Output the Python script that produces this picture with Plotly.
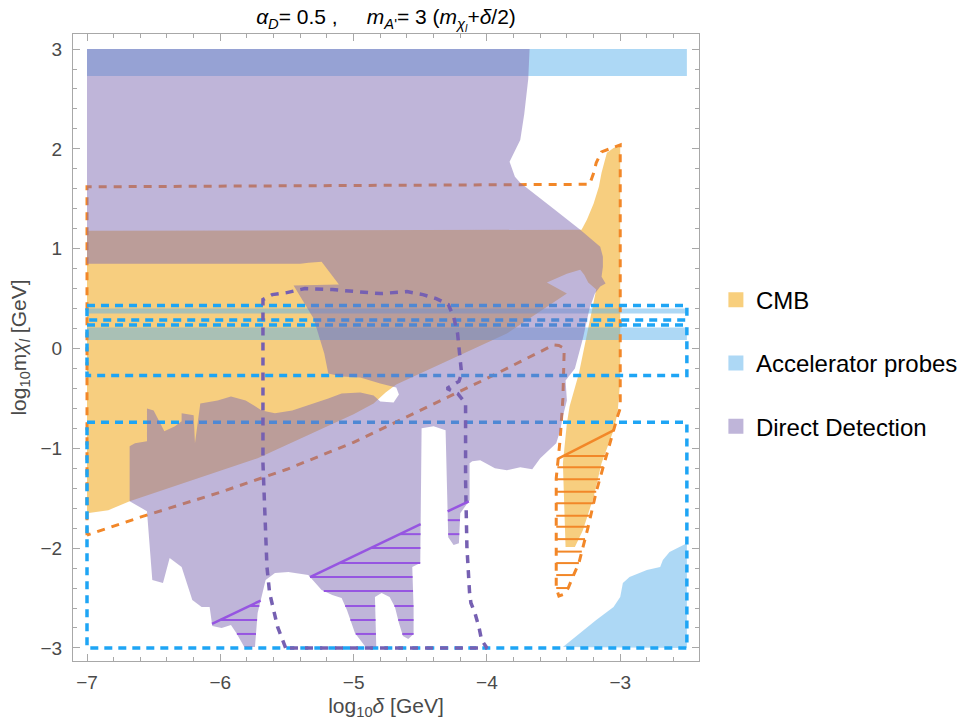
import plotly.graph_objects as go

# ---------------- data (log10 delta [GeV], log10 m_chi [GeV]) ----------------
# CMB excluded region
CMB_X = [-7.00, -3.29, -3.25, -3.20, -3.16, -3.14, -3.10, -3.05, -3.00, -3.00, -3.02, -3.05,
         -3.14, -3.20, -3.28, -3.34, -3.41, -3.42, -3.43, -3.40, -3.38, -3.31, -3.26, -3.21,
         -3.18, -3.24, -3.27, -3.30, -3.40, -3.55, -3.47, -3.40, -3.85, -4.68, -4.76, -4.85,
         -5.00, -5.72, -6.68, -6.84, -7.00]
CMB_Y = [1.18, 1.19, 1.29, 1.45, 1.62, 1.76, 1.96, 2.01, 2.04, -0.32, -0.65, -0.82,
         -1.15, -1.49, -1.82, -1.99, -1.99, -1.65, -1.15, -0.75, -0.58, -0.25, 0.085, 0.42,
         0.59, 0.66, 0.74, 0.79, 0.75, 0.66, 0.60, 0.55, 0.15, -0.36, -0.44, -0.55,
         -0.66, -1.10, -1.53, -1.62, -1.65]

# Direct detection excluded region
DD_X = [-7.00, -3.68, -3.69, -3.72, -3.75, -3.83, -3.79, -3.75, -3.50, -3.30, -3.15, -3.13,
        -3.13, -3.14, -3.11, -3.15, -3.19, -3.23, -3.28, -3.34, -3.41, -3.40, -3.43, -3.45,
        -3.48, -3.54, -3.60, -3.66, -3.75, -3.85, -3.94, -4.05, -4.11, -4.13, -4.13, -4.20,
        -4.21, -4.25, -4.29, -4.31, -4.40, -4.49, -4.50, -4.56, -4.55, -4.55, -4.59, -4.63,
        -4.66, -4.69, -4.73, -4.79, -4.84, -4.83, -4.91, -4.99, -5.05, -5.09, -5.16, -5.24,
        -5.34, -5.49, -5.59, -5.66, -5.72, -5.74, -5.82, -5.88, -5.92, -5.99, -6.06, -6.08,
        -6.14, -6.21, -6.29, -6.38, -6.43, -6.51, -6.53, -6.54, -6.55, -6.68, -6.68, -6.64,
        -6.55, -6.55, -6.50, -6.42, -6.34, -6.29, -6.29, -6.20, -6.19, -6.15, -6.02, -5.92,
        -5.81, -5.69, -5.59, -5.46, -5.34, -5.19, -5.09, -4.95, -4.85, -4.80, -4.70, -4.66,
        -4.68, -4.80, -4.95, -5.09, -5.19, -5.22, -5.30, -5.45, -5.11, -5.20, -5.24, -5.34,
        -5.40, -7.00]
DD_Y = [3.00, 3.00, 2.70, 2.35, 2.09, 1.87, 1.72, 1.66, 1.40, 1.19, 1.02, 0.92,
        0.82, 0.72, 0.65, 0.62, 0.55, 0.40, 0.10, -0.20, -0.32, -0.52, -0.68, -0.82,
        -0.95, -1.03, -1.10, -1.21, -1.19, -1.22, -1.20, -1.12, -1.13, -1.15, -1.52, -1.65,
        -1.95, -1.97, -1.89, -0.82, -0.78, -0.80, -2.15, -2.19, -2.60, -2.86, -2.91, -2.88,
        -2.75, -2.59, -2.49, -2.45, -2.49, -2.99, -2.99, -2.85, -2.62, -2.50, -2.47, -2.42,
        -2.27, -2.24, -2.25, -2.32, -2.65, -2.99, -2.99, -2.85, -2.77, -2.80, -2.78, -2.59,
        -2.59, -2.52, -2.19, -2.10, -2.35, -2.32, -1.99, -1.75, -1.63, -1.53, -0.98, -0.95,
        -0.93, -0.60, -0.62, -0.83, -0.78, -0.73, -0.65, -0.67, -0.95, -0.55, -0.52, -0.48,
        -0.52, -0.62, -0.65, -0.62, -0.57, -0.50, -0.45, -0.44, -0.47, -0.53, -0.54, -0.46,
        -0.39, -0.35, -0.29, -0.28, -0.25, -0.05, 0.30, 0.63, 0.64, 0.80, 0.87, 0.86,
        0.85, 0.85]

# Accelerator probes: horizontal bands and the high-delta corner
ACC_BAND_X = [-7.0, -2.5]
ACC_BANDS_Y = [(2.73, 3.00), (0.35, 0.40), (0.085, 0.21)]
ACC_CORNER_X = [-3.43, -3.30, -3.18, -3.05, -3.00, -2.98, -2.93, -2.80, -2.70, -2.68, -2.63, -2.50, -2.50]
ACC_CORNER_Y = [-2.99, -2.85, -2.72, -2.59, -2.49, -2.35, -2.29, -2.22, -2.19, -2.12, -2.04, -1.95, -3.00]

# Projected accelerator reach (dashed boxes)
ACC_PROJ_X = [-7.0, -2.5]
ACC_PROJ_Y = [(0.285, 0.43), (-0.27, 0.235), (-3.0, -0.74)]

# Projected CMB reach (dashed contour)
CMB_PROJ_X = [-7.00, -7.00, -3.23, -3.20, -3.18, -3.14, -3.00, -3.00, -3.02, -3.05, -3.10,
              -3.18, -3.24, -3.31, -3.35, -3.39, -3.42, -3.46, -3.48, -3.48, -3.45, -3.43,
              -3.42, -3.46, -3.50, -3.70, -4.00, -4.50, -5.00, -5.50, -6.00, -6.60, -7.00]
CMB_PROJ_Y = [-1.87, 1.62, 1.645, 1.755, 1.86, 1.97, 2.04, -0.60, -0.68, -0.82, -1.08,
              -1.435, -1.785, -2.15, -2.27, -2.40, -2.46, -2.48, -2.40, -1.30, -0.90, -0.50,
              0.00, 0.03, 0.035, -0.10, -0.30, -0.62, -0.94, -1.21, -1.44, -1.69, -1.87]

# Projected direct-detection reach (dashed contour)
DD_PROJ_X = [-5.51, -5.57, -5.63, -5.65, -5.68, -5.68, -5.61, -5.50, -5.365, -5.16, -4.80,
             -4.60, -4.48, -4.38, -4.29, -4.25, -4.22, -4.20, -4.19, -4.21, -4.30, -4.22,
             -4.16, -4.16, -4.15, -4.13, -4.12, -4.09, -4.06, -4.04, -4.00, -5.51]
DD_PROJ_Y = [-3.00, -2.79, -2.45, -2.19, -1.15, 0.49, 0.54, 0.56, 0.60, 0.59, 0.55,
             0.57, 0.54, 0.50, 0.44, 0.32, 0.15, -0.08, -0.25, -0.33, -0.40, -0.45,
             -0.55, -1.32, -1.99, -2.45, -2.55, -2.65, -2.79, -2.92, -3.00, -3.00]

# Hatched sub-regions: bounded above by a straight line (point, slope)
DD_HATCH_LINE = (-6.05, -2.75, 0.637)
DD_HATCH_Y = [-1.72, -1.86, -2.00, -2.15, -2.29, -2.43, -2.58, -2.72, -2.86]
CMB_HATCH_LINE = (-3.49, -1.12, 0.68)
CMB_HATCH_Y = [-1.077, -1.19, -1.31, -1.435, -1.55, -1.675, -1.785, -1.91, -2.035, -2.15, -2.27, -2.40]

X_TICKS = [-7, -6, -5, -4, -3]
Y_TICKS = [-3, -2, -1, 0, 1, 2, 3]

# ---------------- styling ----------------
C_CMB = "rgba(240,157,0,0.5)"
C_ACC = "rgba(91,177,235,0.5)"
C_DD = "rgba(127,107,179,0.5)"
C_CMB_LINE = "rgb(242,135,40)"
C_ACC_LINE = "rgb(30,165,245)"
C_DD_LINE = "rgb(118,96,178)"
C_DD_HATCH = "rgb(150,85,225)"
FONT = "Liberation Sans, Arial, sans-serif"
NBSP = "\u00a0"


def closed(xs, ys):
    return list(xs) + [xs[0]], list(ys) + [ys[0]]


def scan_intervals(px, py, y0):
    """x-intervals where the horizontal line y=y0 lies inside the polygon."""
    xs = []
    n = len(px)
    for i in range(n):
        x1, y1 = px[i], py[i]
        x2, y2 = px[(i + 1) % n], py[(i + 1) % n]
        if (y1 <= y0 < y2) or (y2 <= y0 < y1):
            xs.append(x1 + (y0 - y1) * (x2 - x1) / (y2 - y1))
    xs.sort()
    return list(zip(xs[0::2], xs[1::2]))


def line_intervals(px, py, x0, y0, k):
    """x-intervals where the line y = y0 + k (x - x0) lies inside the polygon."""
    n = len(px)
    f = [py[i] - (y0 + k * (px[i] - x0)) for i in range(n)]
    xs = []
    for i in range(n):
        j = (i + 1) % n
        if (f[i] > 0) != (f[j] > 0):
            t = f[i] / (f[i] - f[j])
            xs.append(px[i] + t * (px[j] - px[i]))
    xs.sort()
    return list(zip(xs[0::2], xs[1::2]))


def hatch(px, py, line, levels):
    x0, y0, k = line
    hx, hy = [], []
    for lev in levels:
        xcut = x0 + (lev - y0) / k
        for a, b in scan_intervals(px, py, lev):
            a = max(a, xcut)
            if b > a:
                hx += [a, b, None]
                hy += [lev, lev, None]
    lx, ly = [], []
    for a, b in line_intervals(px, py, x0, y0, k):
        lx += [a, b, None]
        ly += [y0 + k * (a - x0), y0 + k * (b - x0), None]
    return (hx, hy), (lx, ly)


def region(xs, ys, color):
    cx, cy = closed(xs, ys)
    return go.Scatter(x=cx, y=cy, mode="lines", fill="toself", fillcolor=color,
                      line=dict(width=0, color="rgba(0,0,0,0)"), hoverinfo="skip",
                      showlegend=False)


def outline(xs, ys, color, width, dash):
    return go.Scatter(x=xs, y=ys, mode="lines", line=dict(color=color, width=width, dash=dash),
                      hoverinfo="skip", showlegend=False)


fig = go.Figure()

# filled exclusion regions (CMB, accelerators)
fig.add_trace(region(CMB_X, CMB_Y, C_CMB))
for lo, hi in ACC_BANDS_Y:
    fig.add_trace(region([ACC_BAND_X[0], ACC_BAND_X[1], ACC_BAND_X[1], ACC_BAND_X[0]],
                         [lo, lo, hi, hi], C_ACC))
fig.add_trace(region(ACC_CORNER_X, ACC_CORNER_Y, C_ACC))

# projected reaches (dashed)
fig.add_trace(outline(*closed(CMB_PROJ_X, CMB_PROJ_Y), C_CMB_LINE, 3, "8px,7px"))
for lo, hi in ACC_PROJ_Y:
    x0, x1 = ACC_PROJ_X
    fig.add_trace(outline([x0, x1, x1, x0, x0], [hi, hi, lo, lo, hi], C_ACC_LINE, 3.5, "8px,6px"))

# direct detection on top
fig.add_trace(region(DD_X, DD_Y, C_DD))
fig.add_trace(outline(DD_PROJ_X, DD_PROJ_Y, C_DD_LINE, 3.5, "8px,7px"))

# hatched parts
(hx, hy), (lx, ly) = hatch(DD_X, DD_Y, DD_HATCH_LINE, DD_HATCH_Y)
fig.add_trace(outline(hx, hy, C_DD_HATCH, 2, "solid"))
fig.add_trace(outline(lx, ly, C_DD_HATCH, 2.5, "solid"))
(hx, hy), (lx, ly) = hatch(CMB_PROJ_X, CMB_PROJ_Y, CMB_HATCH_LINE, CMB_HATCH_Y)
fig.add_trace(outline(hx, hy, C_CMB_LINE, 2, "solid"))
fig.add_trace(outline(lx, ly, C_CMB_LINE, 2.5, "solid"))

# legend entries
for name, col in [("CMB", "rgb(248,207,125)"), ("Accelerator probes", "rgb(173,216,245)"),
                  ("Direct Detection", "rgb(191,181,217)")]:
    fig.add_trace(go.Scatter(x=[None], y=[None], mode="markers", name=name, legendgroup=name,
                             marker=dict(symbol="square", size=15, color=col)))

axis_common = dict(
    showline=True, linecolor="#a8a8a8", linewidth=1, mirror="allticks",
    ticks="inside", ticklen=7, tickcolor="#a8a8a8", tickwidth=1,
    showgrid=False, zeroline=False, automargin=False,
    tickfont=dict(family=FONT, size=19, color="#4a4a4a"),
    minor=dict(ticks="inside", ticklen=4, tickcolor="#a8a8a8", dtick=0.2, showgrid=False),
)

title_text = ("<i>α</i><sub><i>D</i></sub>= 0.5" + NBSP + "," + NBSP * 5
              + "<i>m</i><sub><i>A</i>'</sub>= 3" + NBSP
              + "(<i>m</i><sub><i>χ</i><sub><i>l</i></sub></sub>+<i>δ</i>/2)")

fig.update_layout(
    template="none",
    width=964, height=723, autosize=False,
    margin=dict(l=73, r=265, t=34, b=62, autoexpand=False),
    plot_bgcolor="white", paper_bgcolor="white",
    title=dict(text=title_text, x=0.5, xref="paper", xanchor="center",
               y=1 - 17 / 723, yref="container", yanchor="middle",
               font=dict(family=FONT, size=21, color="black")),
    xaxis=dict(range=[-7.105, -2.409], tickvals=X_TICKS, ticklabelstandoff=4,
               title=dict(text="log<sub>10</sub><i>δ</i> [GeV]", standoff=6,
                          font=dict(family=FONT, size=21, color="#4a4a4a")),
               **axis_common),
    yaxis=dict(range=[-3.131, 3.151], tickvals=Y_TICKS, ticklabelstandoff=6,
               title=dict(text="log<sub>10</sub>m<i>χ</i><sub><i>l</i></sub> [GeV]", standoff=8,
                          font=dict(family=FONT, size=21, color="#4a4a4a")),
               **axis_common),
    legend=dict(x=1.027, xanchor="left", y=0.475, yanchor="middle", tracegroupgap=29,
                font=dict(family=FONT, size=24, color="black"), itemwidth=30,
                bgcolor="rgba(0,0,0,0)", borderwidth=0),
    showlegend=True,
)

fig.write_html("out.html")
